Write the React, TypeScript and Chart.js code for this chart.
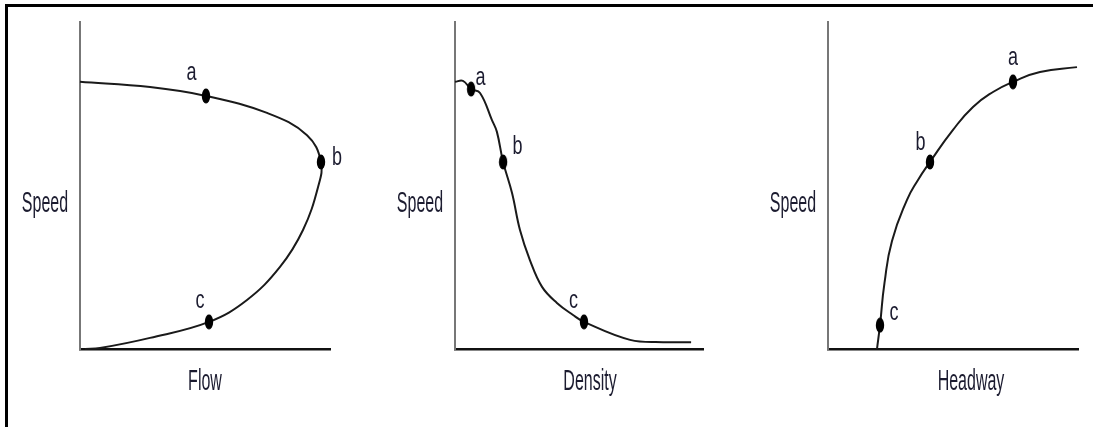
import React, { useEffect, useRef } from 'react';
import { Chart, registerables } from 'chart.js';

Chart.register(...registerables);

// ---------- DATA ----------
const yTitle = 'Speed';
const xTitles = ['Flow', 'Density', 'Headway'];
const pointLabels = ['a', 'b', 'c'];

// Speed–Flow curve
const flowX = [0, 28, 50.4, 74.8, 90.8, 96.4, 95.2, 89.2, 80, 66.8, 51.6, 28, 8, 2];
const flowSpeed = [81.7, 80.1, 77.4, 72.2, 65.4, 57.2, 49.5, 36.4, 25.1, 15.0, 8.3, 3.4, 0.3, 0];
const flowDotsX = [50.4, 96.4, 51.6];
const flowDotsSpeed = [77.4, 57.2, 8.3];

// Speed–Density curve
const densityX = [0, 3.2, 6.5, 10.1, 14.9, 16.9, 19.4, 23, 26.2, 30.2, 35.1, 41.1, 47.6, 52, 70.6, 83.9, 95.2];
const densitySpeed = [81.7, 82.0, 79.5, 78.3, 70, 66.4, 57.2, 47.7, 36.4, 27.2, 19, 14.1, 10.4, 8.3, 2.8, 2.1, 2.1];
const densityDotsX = [6.5, 19.4, 52];
const densityDotsSpeed = [79.5, 57.2, 8.3];

// Speed–Headway curve
const headwayX = [19.6, 20.8, 22.6, 25.6, 31.6, 36, 40.8, 50, 58, 66, 74, 84.8, 99.6];
const headwaySpeed = [0, 7.3, 20.2, 33, 45.6, 51.7, 57.2, 67, 74, 78.6, 81.7, 84.7, 86.2];
const headwayDotsX = [74, 40.8, 20.8];
const headwayDotsSpeed = [81.7, 57.2, 7.3];

// ---------- STYLE / LAYOUT ----------
const W = 1093;
const H = 427;
const TEXT_COLOR = '#1c1c30';

type Panel = {
  xs: number[];
  ys: number[];
  dx: number[];
  dy: number[];
  xTitle: string;
  padding: { left: number; right: number; top: number; bottom: number };
  labelOffsets: [number, number][];
  xTitleCenterOffset: number;
  tension: number;
};

const panels: Panel[] = [
  {
    xs: flowX, ys: flowSpeed, dx: flowDotsX, dy: flowDotsSpeed, xTitle: xTitles[0],
    padding: { left: 80, right: W - 330, top: 22, bottom: H - 349 },
    labelOffsets: [[-14.5, -16], [16, 3], [-9, -14]],
    xTitleCenterOffset: 0,
    tension: 0.4,
  },
  {
    xs: densityX, ys: densitySpeed, dx: densityDotsX, dy: densityDotsSpeed, xTitle: xTitles[1],
    padding: { left: 455, right: W - 703, top: 22, bottom: H - 349 },
    labelOffsets: [[9.5, -4], [14.5, -8], [-10.5, -14]],
    xTitleCenterOffset: 11,
    tension: 0.4,
  },
  {
    xs: headwayX, ys: headwaySpeed, dx: headwayDotsX, dy: headwayDotsSpeed, xTitle: xTitles[2],
    padding: { left: 828, right: W - 1078, top: 22, bottom: H - 349 },
    labelOffsets: [[0, -17], [-9.5, -12], [14, -5]],
    xTitleCenterOffset: 18,
    tension: 0.5,
  },
];

function makeDot(): HTMLCanvasElement {
  const c = document.createElement('canvas');
  c.width = 10;
  c.height = 16;
  const g = c.getContext('2d')!;
  g.fillStyle = '#000';
  g.beginPath();
  g.ellipse(5, 8, 4.2, 7.5, 0, 0, Math.PI * 2);
  g.fill();
  return c;
}

function drawStretched(ctx: CanvasRenderingContext2D, text: string, cx: number, baseline: number, size: number, sy: number) {
  ctx.save();
  ctx.translate(cx, baseline);
  ctx.scale(1, sy);
  ctx.font = `${size}px "Liberation Sans", Arial, sans-serif`;
  ctx.fillStyle = TEXT_COLOR;
  ctx.textAlign = 'center';
  ctx.textBaseline = 'alphabetic';
  ctx.fillText(text, 0, 0);
  ctx.restore();
}

function PanelChart({ panel }: { panel: Panel }) {
  const ref = useRef<HTMLCanvasElement>(null);
  useEffect(() => {
    if (!ref.current) return;
    const dot = makeDot();
    const curve = panel.xs.map((x, i) => ({ x, y: panel.ys[i] }));
    const dots = panel.dx.map((x, i) => ({ x, y: panel.dy[i] }));
    const textPlugin = {
      id: 'texts',
      afterDraw(chart: any) {
        const ctx = chart.ctx as CanvasRenderingContext2D;
        const area = chart.chartArea;
        const xs = chart.scales.x;
        const ys = chart.scales.y;
        drawStretched(ctx, yTitle, area.left - 35, 212, 16, 1.83);
        drawStretched(ctx, panel.xTitle, (area.left + area.right) / 2 + panel.xTitleCenterOffset, 390, 16, 1.83);
        pointLabels.forEach((lab, i) => {
          const px = xs.getPixelForValue(panel.dx[i]);
          const py = ys.getPixelForValue(panel.dy[i]);
          const [ox, oy] = panel.labelOffsets[i];
          drawStretched(ctx, lab, px + ox, py + oy, 18, 1.4);
        });
      },
    };
    const chart = new Chart(ref.current, {
      type: 'scatter',
      data: {
        datasets: [
          {
            data: dots,
            showLine: false,
            pointStyle: dot as any,
            pointRadius: 5,
            clip: false as any,
          },
          {
            data: curve,
            showLine: true,
            borderColor: '#1a1a1a',
            borderWidth: 2,
            pointRadius: 0,
            tension: panel.tension,
            fill: false,
            clip: false as any,
          },
        ],
      },
      options: {
        responsive: false,
        animation: false,
        events: [],
        layout: { padding: panel.padding },
        plugins: { legend: { display: false }, tooltip: { enabled: false } },
        scales: {
          x: {
            type: 'linear', min: 0, max: 100,
            ticks: { display: false },
            grid: { display: false, drawTicks: false },
            border: { display: true, color: '#111', width: 2.5 },
          },
          y: {
            type: 'linear', min: 0, max: 100,
            ticks: { display: false },
            grid: { display: false, drawTicks: false },
            border: { display: true, color: '#777', width: 2 },
          },
        },
      },
      plugins: [textPlugin],
    } as any);
    return () => chart.destroy();
  }, [panel]);
  return (
    <canvas
      ref={ref}
      width={W}
      height={H}
      style={{ position: 'absolute', left: 0, top: 0, width: W, height: H }}
    />
  );
}

export default function App() {
  return (
    <div style={{ position: 'absolute', left: 0, top: 0, width: W, height: H, background: '#fff', overflow: 'hidden' }}>
      <div
        style={{
          position: 'absolute', left: 5, top: 4, width: W - 5, height: H - 4,
          borderTop: '3px solid #000', borderLeft: '3px solid #000', boxSizing: 'border-box',
        }}
      />
      {panels.map((p, i) => (
        <PanelChart key={i} panel={p} />
      ))}
    </div>
  );
}
